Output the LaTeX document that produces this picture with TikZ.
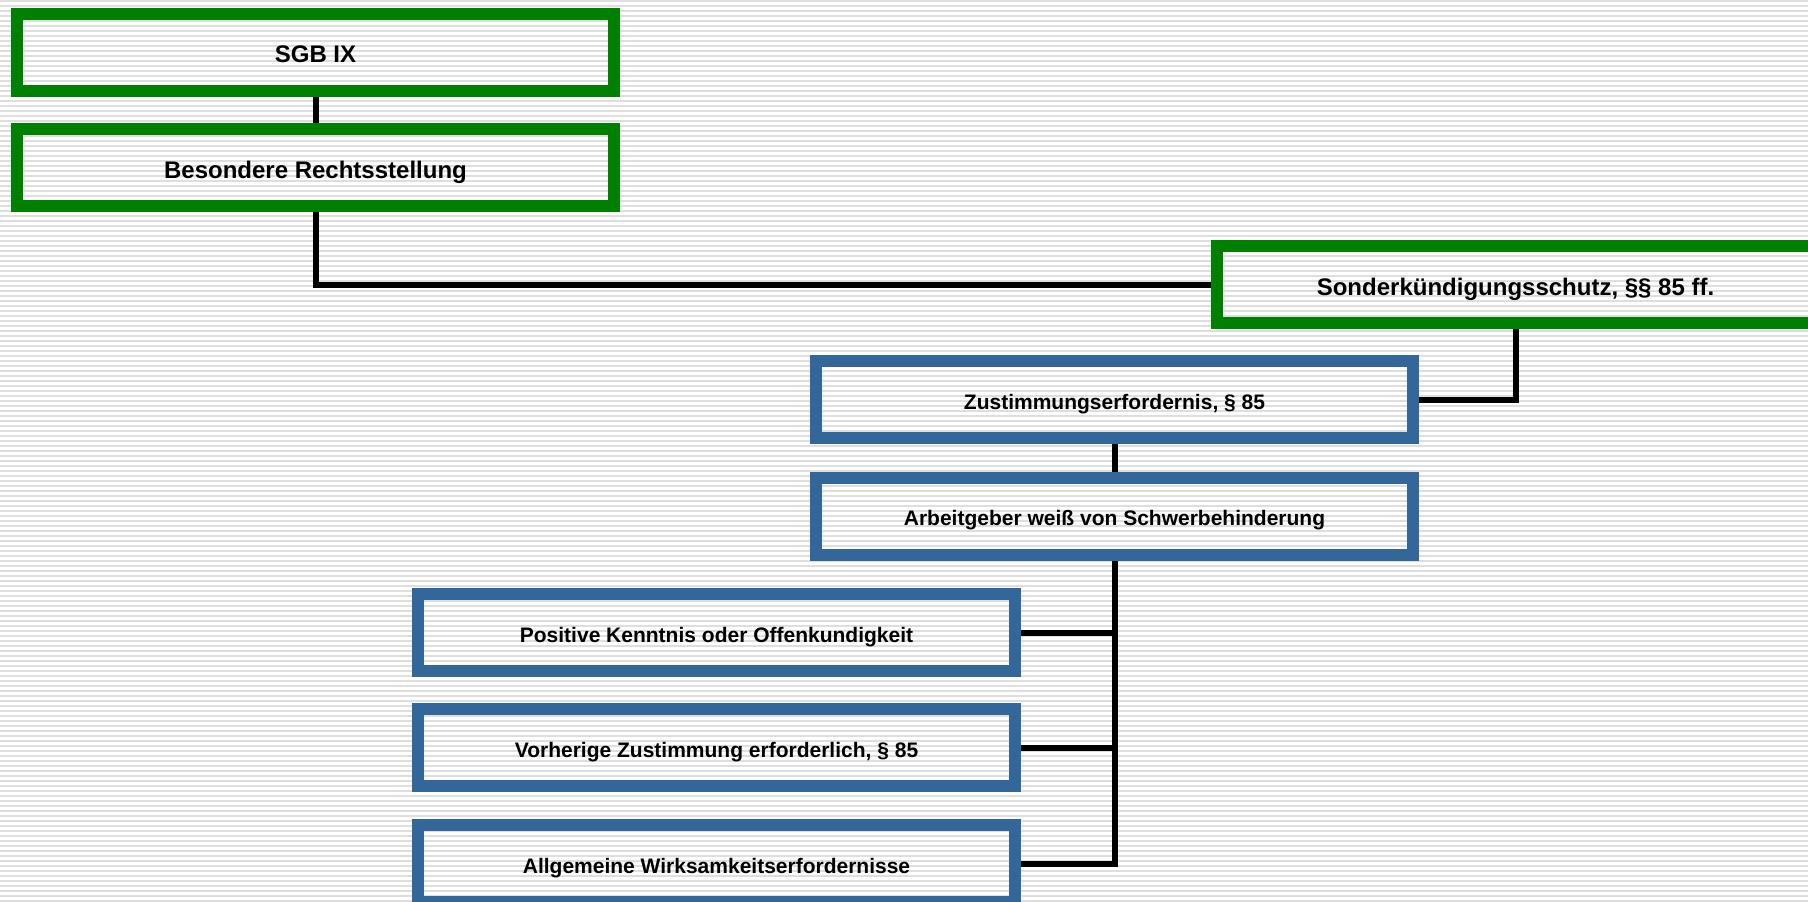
\documentclass[tikz,border=0pt]{standalone}
\usepackage{fontspec}
\setmainfont{Liberation Sans}
\pgfdeclarelayer{back}
\pgfdeclarelayer{bg}
\pgfsetlayers{back,bg,main}
\definecolor{boxgreen}{RGB}{0,128,0}
\definecolor{boxblue}{RGB}{51,102,153}
\definecolor{stripe}{RGB}{222,222,222}
\begin{document}
\begin{tikzpicture}[x=1pt,y=-1pt,
  box/.style={draw, line width=12pt, minimum width=597pt, minimum height=77pt,
    inner sep=0pt, align=center, text depth=0pt},
  gbox/.style={box, draw=boxgreen, text height=21pt,
    font=\bfseries\fontsize{24}{28}\selectfont},
  bbox/.style={box, draw=boxblue, text height=19pt,
    font=\bfseries\fontsize{21}{25}\selectfont},
  link/.style={draw=black, line width=6pt}]
\useasboundingbox (0,0) rectangle (1808,902);
\begin{pgfonlayer}{back}
\fill[white] (0,0) rectangle (1808,902);
\foreach \y in {0,5,...,900} \fill[stripe] (0,\y) rectangle (1808,\y+2);
\end{pgfonlayer}

\node[gbox] (sgb) at (315.5,52) {SGB IX};
\node[gbox] (bes) at (315.5,167.5) {Besondere Rechtsstellung};
\node[gbox] (son) at (1515.5,284.5) {Sonderkündigungsschutz, §§ 85 ff.};
\node[bbox] (zus) at (1114.5,399.5) {Zustimmungserfordernis, § 85};
\node[bbox] (arb) at (1114.5,516) {Arbeitgeber weiß von Schwerbehinderung};
\node[bbox] (pos) at (716.5,632.5) {Positive Kenntnis oder Offenkundigkeit};
\node[bbox] (vor) at (716.5,747.5) {Vorherige Zustimmung erforderlich, § 85};
\node[bbox] (all) at (716.5,863.5) {Allgemeine Wirksamkeitserfordernisse};

\begin{pgfonlayer}{bg}
\draw[link] (sgb.south) -- (bes.north);
\draw[link] (bes.south) |- (son.west);
\draw[link] (son.south) |- (zus.east);
\draw[link] (zus.south) -- (arb.north);
\draw[link] (arb.south) |- (pos.east);
\draw[link] (arb.south) |- (vor.east);
\draw[link] (arb.south) |- (all.east);
\end{pgfonlayer}
\end{tikzpicture}
\end{document}
